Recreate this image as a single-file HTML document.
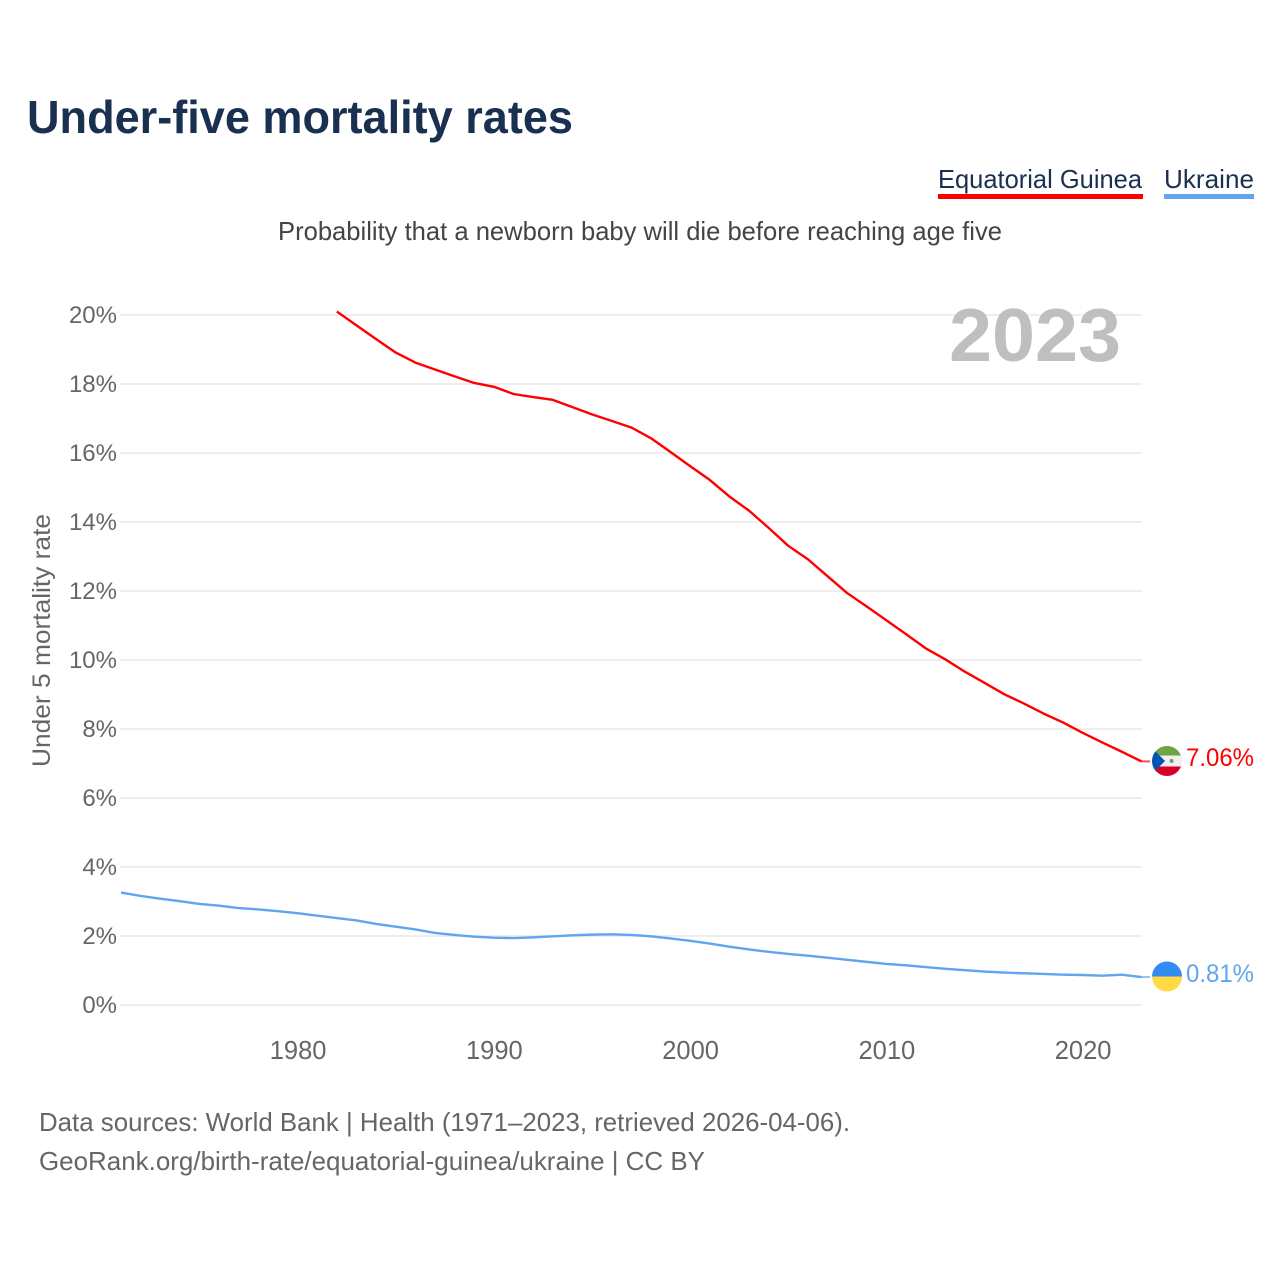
<!DOCTYPE html>
<html lang="en">
<head>
<meta charset="utf-8">
<title>Under-five mortality rates</title>
<style>
html,body{margin:0;padding:0;background:#fff;width:1280px;height:1280px;overflow:hidden}
svg{display:block;font-family:"Liberation Sans",sans-serif}
</style>
</head>
<body>
<svg id="chart" width="1280" height="1280" viewBox="0 0 1280 1280" xmlns="http://www.w3.org/2000/svg">
  <defs>
    <clipPath id="flag-clip-eg"><circle cx="1167" cy="761" r="15"/></clipPath>
    <clipPath id="flag-clip-ua"><circle cx="1167" cy="976.5" r="15"/></clipPath>
  </defs>
  <text x="27" y="133" font-size="46" font-weight="700" fill="#1a3050" textLength="546" lengthAdjust="spacingAndGlyphs">Under-five mortality rates</text>
  <text x="938" y="188" font-size="26" fill="#1a3050" textLength="204" lengthAdjust="spacingAndGlyphs">Equatorial Guinea</text>
  <rect x="938" y="194" width="205" height="5" fill="#ff0000"/>
  <text x="1164" y="188" font-size="26" fill="#1a3050" textLength="90" lengthAdjust="spacingAndGlyphs">Ukraine</text>
  <rect x="1164" y="194" width="90" height="5" fill="#60a5ee"/>
  <text x="278" y="240" font-size="26" fill="#444" textLength="724" lengthAdjust="spacingAndGlyphs">Probability that a newborn baby will die before reaching age five</text>
  <g id="grid"></g>
  <text x="949" y="361" font-size="75" font-weight="700" fill="#bfbfbf" textLength="172" lengthAdjust="spacingAndGlyphs">2023</text>
  <g id="yticks"></g>
  <g id="xticks"></g>
  <text transform="translate(50 640.5) rotate(-90)" text-anchor="middle" font-size="25" fill="#666" textLength="253" lengthAdjust="spacingAndGlyphs">Under 5 mortality rate</text>
  <path id="line-eg" fill="none" stroke="#ff0000" stroke-width="2.4" stroke-linejoin="round"/>
  <path id="line-ua" fill="none" stroke="#60a5ee" stroke-width="2.4" stroke-linejoin="round"/>
  <path id="leader-eg" fill="none" stroke="#ff0000" stroke-width="2" stroke-opacity="0.7"/>
  <path id="leader-ua" fill="none" stroke="#60a5ee" stroke-width="2" stroke-opacity="0.7"/>
  <g clip-path="url(#flag-clip-eg)">
    <rect x="1152" y="746" width="30" height="30" fill="#f0f0f0"/>
    <rect x="1152" y="746" width="30" height="9.5" fill="#6da544"/>
    <rect x="1152" y="766.5" width="30" height="9.5" fill="#d80027"/>
    <polygon points="1150,746 1150,776 1165,761" fill="#0052b4"/>
    <circle cx="1171.5" cy="761" r="2" fill="#7a9a6a"/>
  </g>
  <g clip-path="url(#flag-clip-ua)">
    <rect x="1152" y="961" width="30" height="15.5" fill="#338af3"/>
    <rect x="1152" y="976.5" width="30" height="15.5" fill="#ffda44"/>
  </g>
  <text id="value-eg" x="1186" y="766" font-size="25" fill="#ff0000" textLength="68" lengthAdjust="spacingAndGlyphs"></text>
  <text id="value-ua" x="1186" y="982" font-size="25" fill="#60a5ee" textLength="68" lengthAdjust="spacingAndGlyphs"></text>
  <text x="39" y="1131" font-size="26" fill="#666" textLength="811" lengthAdjust="spacingAndGlyphs">Data sources: World Bank | Health (1971–2023, retrieved 2026-04-06).</text>
  <text x="39" y="1170" font-size="26" fill="#666" textLength="666" lengthAdjust="spacingAndGlyphs">GeoRank.org/birth-rate/equatorial-guinea/ukraine | CC BY</text>
</svg>
<script>
const yTickValues = [0, 2, 4, 6, 8, 10, 12, 14, 16, 18, 20];
const xTickYears = [1980, 1990, 2000, 2010, 2020];
const guineaStartYear = 1982;
const guineaValues = [20.1, 19.7, 19.3, 18.91, 18.62, 18.42, 18.22, 18.03, 17.92, 17.71, 17.62, 17.54, 17.33, 17.12, 16.93, 16.74, 16.43, 16.03, 15.62, 15.22, 14.74, 14.33, 13.83, 13.31, 12.92, 12.43, 11.94, 11.55, 11.15, 10.75, 10.34, 10.02, 9.66, 9.34, 9.01, 8.74, 8.45, 8.19, 7.89, 7.61, 7.34, 7.06];
const ukraineStartYear = 1971;
const ukraineValues = [3.26, 3.16, 3.08, 3.01, 2.93, 2.88, 2.81, 2.77, 2.72, 2.66, 2.59, 2.52, 2.45, 2.35, 2.27, 2.19, 2.09, 2.03, 1.98, 1.95, 1.94, 1.96, 1.99, 2.02, 2.04, 2.05, 2.03, 1.99, 1.93, 1.86, 1.78, 1.69, 1.61, 1.54, 1.48, 1.43, 1.37, 1.31, 1.25, 1.19, 1.15, 1.10, 1.05, 1.01, 0.97, 0.94, 0.92, 0.90, 0.88, 0.87, 0.85, 0.88, 0.81];

const NS = 'http://www.w3.org/2000/svg';
function xScale(year) { return 121 + (year - 1971) * (1141.5 - 121) / (2023 - 1971); }
function yScale(pct) { return 1005 - pct * 34.5; }
function linePath(startYear, values) {
  return values.map(function (v, i) {
    return (i ? 'L' : 'M') + xScale(startYear + i).toFixed(2) + ' ' + yScale(v).toFixed(2);
  }).join(' ');
}
function leaderPath(value) {
  return 'M' + xScale(2023).toFixed(2) + ' ' + yScale(value).toFixed(2) + ' H1150';
}

const gridGroup = document.getElementById('grid');
const yTickGroup = document.getElementById('yticks');
const xTickGroup = document.getElementById('xticks');

yTickValues.forEach(function (v) {
  const gridLine = document.createElementNS(NS, 'line');
  
  
  gridLine.setAttribute('x1', 120);
  gridLine.setAttribute('x2', 1142);
  gridLine.setAttribute('y1', yScale(v));
  gridLine.setAttribute('y2', yScale(v));
  gridLine.setAttribute('stroke', '#eeeeee');
  gridLine.setAttribute('stroke-width', 2);
  gridGroup.appendChild(gridLine);

  const label = document.createElementNS(NS, 'text');
  
  
  label.setAttribute('x', 117);
  label.setAttribute('y', yScale(v) + 8);
  label.setAttribute('text-anchor', 'end');
  label.setAttribute('font-size', 24);
  label.setAttribute('fill', '#666');
  label.textContent = v + '%';
  yTickGroup.appendChild(label);
});

xTickYears.forEach(function (year) {
  const label = document.createElementNS(NS, 'text');
  
  
  label.setAttribute('x', xScale(year) + 0.5);
  label.setAttribute('y', 1059);
  label.setAttribute('text-anchor', 'middle');
  label.setAttribute('font-size', 25.5);
  label.setAttribute('fill', '#666');
  label.textContent = year;
  xTickGroup.appendChild(label);
});

const guineaLast = guineaValues[guineaValues.length - 1];
const ukraineLast = ukraineValues[ukraineValues.length - 1];
document.getElementById('line-eg').setAttribute('d', linePath(guineaStartYear, guineaValues));
document.getElementById('line-ua').setAttribute('d', linePath(ukraineStartYear, ukraineValues));
document.getElementById('leader-eg').setAttribute('d', leaderPath(guineaLast));
document.getElementById('leader-ua').setAttribute('d', leaderPath(ukraineLast));
document.getElementById('value-eg').textContent = guineaLast.toFixed(2) + '%';
document.getElementById('value-ua').textContent = ukraineLast.toFixed(2) + '%';
</script>
</body>
</html>
